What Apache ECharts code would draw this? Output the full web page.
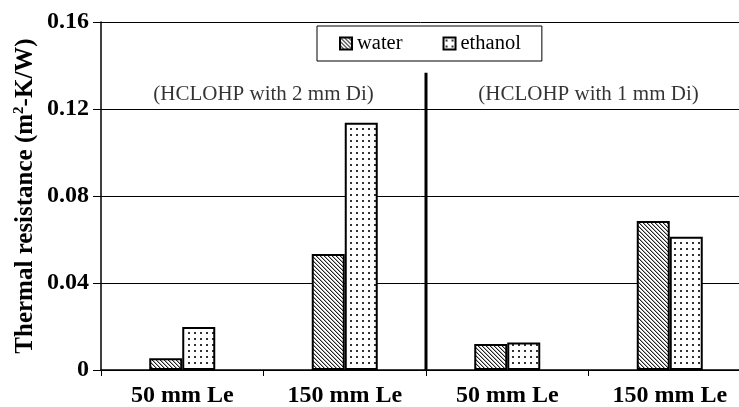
<!DOCTYPE html>
<html>
<head>
<meta charset="utf-8">
<script src="https://cdn.jsdelivr.net/npm/echarts@6/dist/echarts.min.js"></script>
<style>
html, body { margin: 0; padding: 0; background: #fff; }
#chart { width: 739px; height: 407px; }
</style>
</head>
<body>
<div id="chart"></div>
<script>
// values
const categories = ['50 mm Le', '150 mm Le', '50 mm Le', '150 mm Le'];
const waterValues = [0.0054, 0.0533, 0.012, 0.0685];
const ethanolValues = [0.0198, 0.1137, 0.0126, 0.0613];
const yTicks = [0, 0.04, 0.08, 0.12, 0.16];
const groupLabels = ['(HCLOHP with 2 mm Di)', '(HCLOHP with 1 mm Di)'];
const groupLabelPos = [[1, 0.1265], [3, 0.1265]];
const dividerLine = [[2, 0], [2, 0.1367]];

const serif = '"Liberation Serif", "DejaVu Serif", serif';

// hatch "\" for water
function hatchPattern() {
    const c = document.createElement('canvas');
    c.width = 4; c.height = 4;
    const ctx = c.getContext('2d');
    ctx.fillStyle = '#fff';
    ctx.fillRect(0, 0, 4, 4);
    for (let y = 0; y < 4; y++) {
        for (let x = 0; x < 4; x++) {
            const d = ((x - y) % 4 + 4) % 4;
            if (d === 0) { ctx.fillStyle = '#222'; ctx.fillRect(x, y, 1, 1); }
            else if (d === 1) { ctx.fillStyle = '#aaa'; ctx.fillRect(x, y, 1, 1); }
        }
    }
    return c;
}

// dots for ethanol
function dotPattern() {
    const c = document.createElement('canvas');
    c.width = 6; c.height = 6;
    const ctx = c.getContext('2d');
    ctx.fillStyle = '#fff';
    ctx.fillRect(0, 0, 6, 6);
    ctx.fillStyle = '#333';
    ctx.fillRect(2, 2, 2, 2);
    return c;
}

const chart = echarts.init(document.getElementById('chart'));

const option = {
    backgroundColor: '#fff',
    animation: false,
    grid: {
        left: 101,
        top: 22,
        width: 650,
        bottom: 37,
        containLabel: false,
        outerBoundsMode: 'none'
    },
    legend: {
        data: ['water', 'ethanol'],
        left: 317,
        top: 26,
        padding: [7, 21, 7, 22],
        itemWidth: 12,
        itemHeight: 12,
        itemGap: 40,
        borderColor: '#000',
        borderWidth: 1,
        icon: 'rect',
        textStyle: { fontFamily: serif, fontSize: 20.5, color: '#000' }
    },
    xAxis: [
        {
            type: 'category',
            data: categories,
            axisLine: { lineStyle: { color: '#000', width: 1.5 } },
            axisTick: { show: true, length: 6, lineStyle: { color: '#000' } },
            axisLabel: {
                margin: 14,
                fontFamily: serif,
                fontWeight: 'bold',
                fontSize: 24,
                color: '#000'
            }
        },
        {
            type: 'value',
            min: 0,
            max: 4,
            show: false
        }
    ],
    yAxis: {
        type: 'value',
        min: yTicks[0],
        max: yTicks[yTicks.length - 1],
        interval: yTicks[1] - yTicks[0],
        name: '{a|Thermal resistance (m}{s|2}{a|-K/W)}',
        nameLocation: 'middle',
        nameGap: 62,
        nameMoveOverlap: false,
        nameTextStyle: {
            rich: {
                a: { fontFamily: serif, fontWeight: 'bold', fontSize: 25, color: '#000' },
                s: { fontFamily: serif, fontWeight: 'bold', fontSize: 15, color: '#000', verticalAlign: 'top', padding: [0, 0, 12, 0] }
            }
        },
        axisLine: { show: true, lineStyle: { color: '#000', width: 1.5 } },
        axisTick: { show: true, length: 8, lineStyle: { color: '#000' } },
        axisLabel: {
            margin: 12,
            fontFamily: serif,
            fontWeight: 'bold',
            fontSize: 24,
            color: '#000'
        },
        splitLine: { lineStyle: { color: '#000', width: 1 } }
    },
    series: [
        {
            name: 'water',
            type: 'bar',
            data: waterValues,
            barWidth: 33,
            barGap: '0%',
            itemStyle: {
                color: { image: hatchPattern(), repeat: 'repeat' },
                borderColor: '#000',
                borderWidth: 2
            }
        },
        {
            name: 'ethanol',
            type: 'bar',
            data: ethanolValues,
            barWidth: 33,
            barGap: '0%',
            itemStyle: {
                color: { image: dotPattern(), repeat: 'repeat' },
                borderColor: '#000',
                borderWidth: 2
            }
        },
        {
            name: 'divider',
            type: 'line',
            xAxisIndex: 1,
            data: dividerLine,
            symbol: 'none',
            lineStyle: { color: '#000', width: 3 },
            silent: true
        },
        {
            name: 'groups',
            type: 'scatter',
            xAxisIndex: 1,
            data: groupLabelPos.map((p, i) => ({ value: p, name: groupLabels[i] })),
            symbolSize: 0,
            label: {
                show: true,
                position: 'inside',
                formatter: p => p.name,
                fontFamily: serif,
                fontSize: 21,
                color: '#000'
            },
            silent: true
        }
    ]
};

chart.setOption(option);
</script>
</body>
</html>
